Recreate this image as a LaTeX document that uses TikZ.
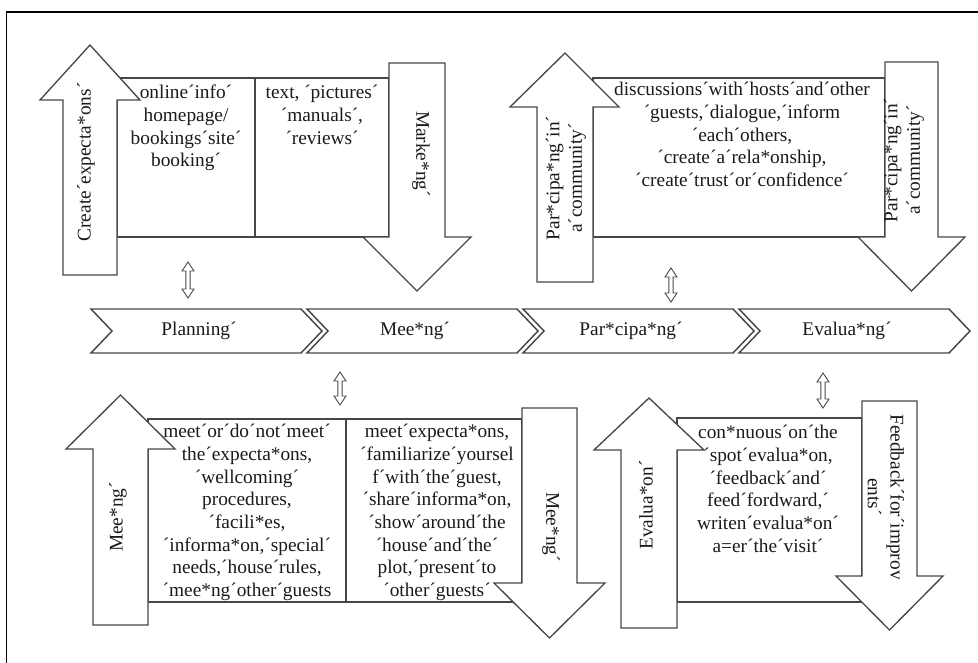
\documentclass[tikz,border=0pt]{standalone}
\usepackage{fontspec}
\setmainfont{Liberation Serif}
\definecolor{lg}{HTML}{474747}
\definecolor{txc}{HTML}{1A1A1A}
\newcommand{\dblarr}[3]{% x, ytop, ybottom
  \draw[lg, line width=0.7pt, fill=white] (#1,#2) -- ++(6,9) -- ++(-3.8,0) -- (#1+2.2,#3-9) -- ++(3.8,0) -- (#1,#3) -- ++(-6,-9) -- ++(3.8,0) -- (#1-2.2,#2+9) -- ++(-3.8,0) -- cycle;}
\begin{document}
\begin{tikzpicture}[x=0.75pt,y=-0.75pt,
  shp/.style={draw=lg, line width=1pt, fill=white, line join=miter},
  bx/.style={draw=lg, line width=0.9pt},
  chev/.style={draw=lg, line width=1.1pt, fill=white},
  tx/.style={font=\fontsize{14.5}{17}\selectfont, align=center, inner sep=0pt, text=txc},
  ]
\useasboundingbox (0,0) rectangle (978,662);
\begin{scope}
  \clip (0,0) rectangle (978,662);
  \draw[black, line width=1pt] (6.5,12) rectangle (1000,700);
\end{scope}

% ---------- boxes ----------
\draw[bx] (117,78) rectangle (389,237);
\draw[bx] (255,78) -- (255,237);
\draw[bx] (593,78) rectangle (885,237);
\draw[bx] (148,419) rectangle (522,602);
\draw[bx] (346,419) -- (346,602);
\draw[bx] (677,418) rectangle (862,602);

% ---------- block arrows ----------
% top left up
\draw[shp] (63,275) -- (63,100) -- (40,100) -- (90,45) -- (140,100) -- (117,100) -- (117,275) -- cycle;
% marketing down
\draw[shp] (389,63) -- (445,63) -- (445,237) -- (471,237) -- (417,291) -- (363,237) -- (389,237) -- cycle;
% top right up
\draw[shp] (537,282) -- (537,107) -- (510,107) -- (565,53) -- (619,107) -- (593,107) -- (593,282) -- cycle;
% top right down
\draw[shp] (885,62) -- (938,62) -- (938,237) -- (965,237) -- (911.5,291) -- (858,237) -- (885,237) -- cycle;
% bottom left up
\draw[shp] (93,625) -- (93,449) -- (66,449) -- (120.5,395) -- (175,449) -- (148,449) -- (148,625) -- cycle;
% bottom middle down
\draw[shp] (522,408) -- (577,408) -- (577,583) -- (605,583) -- (549.5,638) -- (494,583) -- (522,583) -- cycle;
% bottom right up
\draw[shp] (621,628) -- (621,450) -- (594,450) -- (649,398) -- (704,450) -- (677,450) -- (677,628) -- cycle;
% bottom right down
\draw[shp] (862,401) -- (917,401) -- (917,576) -- (943,576) -- (889.5,630) -- (836,576) -- (862,576) -- cycle;

% ---------- chevrons ----------
\foreach \xo/\nm/\lab in {91/c1/Planning´, 307/c2/Mee*ng´, 523/c3/Par*cipa*ng´, 739/c4/Evalua*ng´}{
  \draw[chev] (\xo,309) -- (\xo+210,309) -- (\xo+231,331) -- (\xo+210,353) -- (\xo,353) -- (\xo+21,331) -- cycle;
  \node[tx] (\nm) at (\xo+108,331) {\lab};
}

% ---------- double arrows ----------
\dblarr{188}{262}{298}
\dblarr{671}{268}{302}
\dblarr{340}{372}{405}
\dblarr{823}{373}{408}

% ---------- box texts ----------
\node[tx, anchor=north] (tl1) at (186,85) {online´info´\\homepage/\\bookings´site´\\booking´};
\node[tx, anchor=north] (tl2) at (322,85) {text, ´pictures´\\´manuals´,\\´reviews´};
\node[tx, anchor=north] (tr) at (742,82) {discussions´with´hosts´and´other\\´guests,´dialogue,´inform\\´each´others,\\´create´a´rela*onship,\\´create´trust´or´confidence´};
\node[tx, anchor=north] (bl1) at (247,424) {meet´or´do´not´meet´\\the´expecta*ons,\\´wellcoming´\\procedures,\\´facili*es,\\´informa*on,´special´\\needs,´house´rules,\\´mee*ng´other´guests};
\node[tx, anchor=north] (bl2) at (437,424) {meet´expecta*ons,\\´familiarize´yoursel\\f´with´the´guest,\\´share´informa*on,\\´show´around´the\\´house´and´the´\\plot,´present´to\\´other´guests´};
\node[tx, anchor=north] (br) at (768,425) {con*nuous´on´the\\´spot´evalua*on,\\´feedback´and´\\feed´fordward,´\\writen´evalua*on´\\a=er´the´visit´};

% ---------- vertical labels ----------
\node[tx, rotate=90] (v1) at (86,162) {Create´expecta*ons´};
\node[tx, rotate=-90] (v2) at (421,154) {Marke*ng´};
\node[tx, rotate=90] (v3) at (566,178) {Par*cipa*ng´in´\\a´community´};
\node[tx, rotate=90] (v4) at (904,160) {Par*cipa*ng´in´\\a´community´};
\node[tx, rotate=90] (v5) at (118,517) {Mee*ng´};
\node[tx, rotate=-90] (v6) at (551,527) {Mee*ng´};
\node[tx, rotate=90] (v7) at (646,505) {Evalua*on´};
\node[tx, rotate=-90] (v8) at (886,497) {Feedback´for´improv\\ents´};
\end{tikzpicture}
\end{document}
